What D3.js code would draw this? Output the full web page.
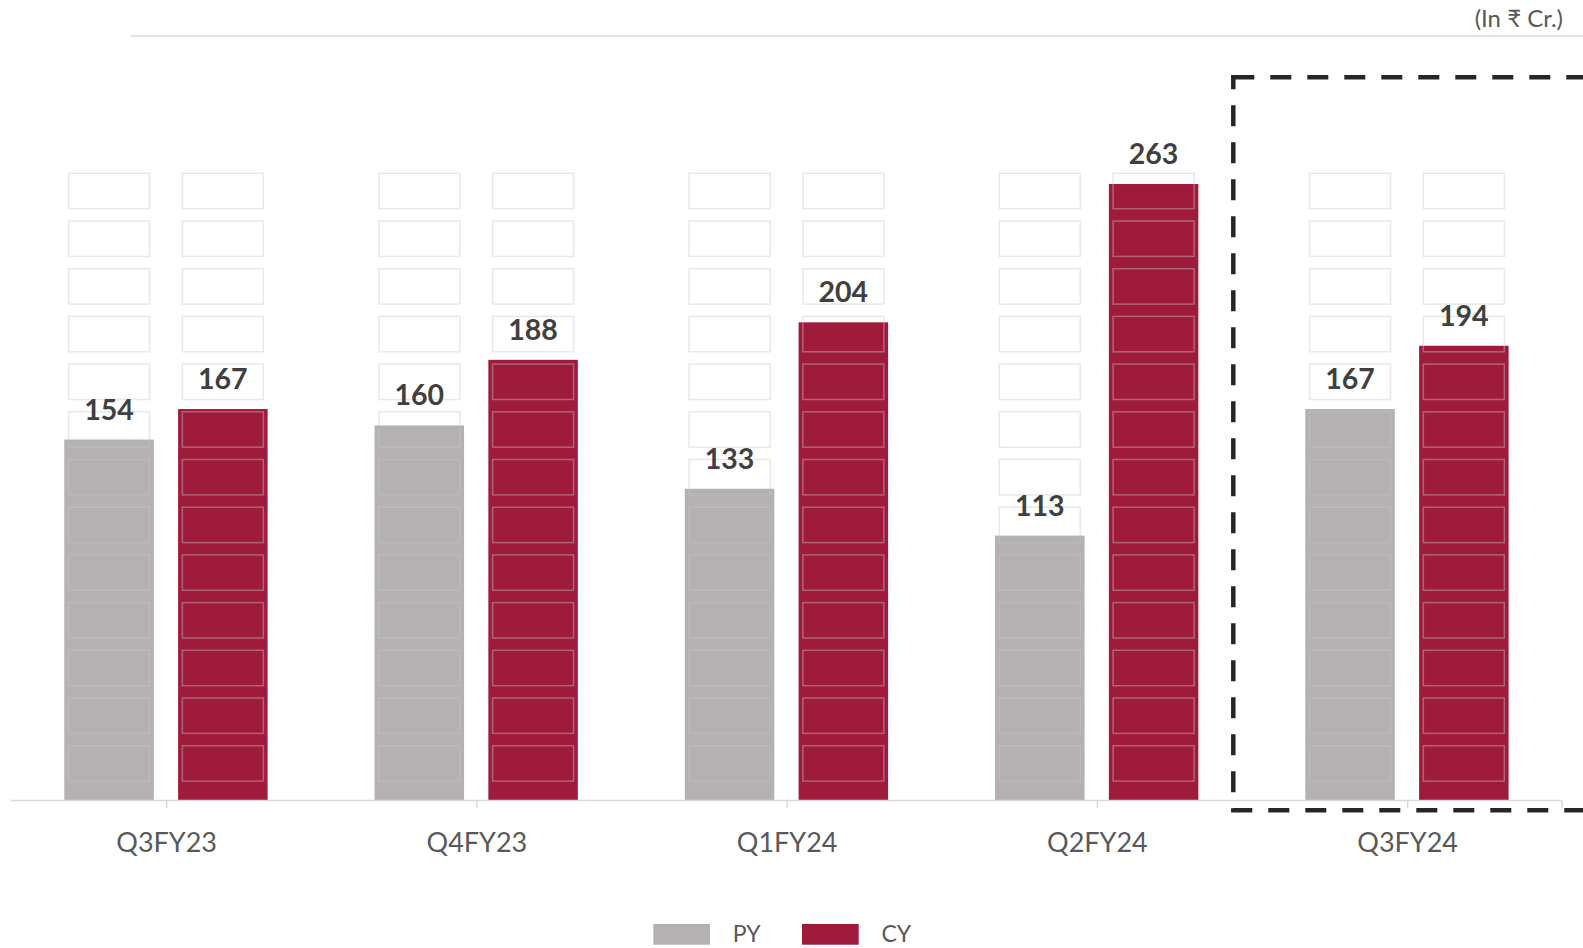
<!DOCTYPE html>
<html>
<head>
<meta charset="utf-8">
<script src="https://cdn.jsdelivr.net/npm/d3@7"></script>
<style>
  html, body { margin: 0; padding: 0; background: #ffffff; }
  svg { display: block; }
  text { font-family: "Lato", "Noto Sans", "DejaVu Sans", sans-serif; }
</style>
</head>
<body>
<svg id="chart" width="1583" height="948"></svg>
<script>
const categories = ["Q3FY23", "Q4FY23", "Q1FY24", "Q2FY24", "Q3FY24"];
const seriesNames = ["PY", "CY"];
const pyValues = [154, 160, 133, 113, 167];
const cyValues = [167, 188, 204, 263, 194];
const unitLabel = "(In \u20B9 Cr.)";

const colors = { PY: "#b5b0b2", CY: "#9f1b3b" };

const svg = d3.select("#chart");
const W = 1583, H = 948;

const baseline = 800.5;
const x = d3.scaleBand().domain(categories).range([11.5, 1562.75]).padding(0);
const xSub = d3.scaleBand().domain(seriesNames).range([52.8, 256.1]).paddingInner(0.2135).paddingOuter(0);
const y = d3.scaleLinear().domain([0, 300]).range([baseline, baseline - 703.2]);

const data = categories.map((c, i) => ({ cat: c, PY: pyValues[i], CY: cyValues[i] }));

// top rule
svg.append("line").attr("x1", 131).attr("x2", W).attr("y1", 36).attr("y2", 36)
  .attr("stroke", "#d9d9d9").attr("stroke-width", 1.5);

svg.append("text").attr("x", 1563).attr("y", 27).attr("text-anchor", "end")
  .attr("font-size", 24).attr("fill", "#595959").text(unitLabel);

// bars
const groups = svg.selectAll("g.cat").data(data).join("g").attr("class", "cat")
  .attr("transform", d => `translate(${x(d.cat)},0)`);

groups.selectAll("rect.bar").data(d => seriesNames.map(s => ({ s, v: d[s] }))).join("rect")
  .attr("class", "bar")
  .attr("x", d => xSub(d.s)).attr("width", xSub.bandwidth())
  .attr("y", d => y(d.v)).attr("height", d => baseline - y(d.v))
  .attr("fill", d => colors[d.s]);

// decorative cell pattern
const rows = d3.range(13);
const cellW = 81, cellH = 35.4, rowTop = 173.3, rowStep = 47.7;
groups.each(function () {
  const g = d3.select(this);
  seriesNames.forEach(s => {
    g.selectAll(null).data(rows).join("rect")
      .attr("x", xSub(s) + (xSub.bandwidth() - cellW) / 2)
      .attr("y", r => rowTop + r * rowStep)
      .attr("width", cellW).attr("height", cellH)
      .attr("fill", "none")
      .attr("stroke", "rgba(200,200,200,0.42)")
      .attr("stroke-width", 1.5);
  });
});

// value labels
groups.selectAll("text.val").data(d => seriesNames.map(s => ({ s, v: d[s] }))).join("text")
  .attr("class", "val")
  .attr("x", d => xSub(d.s) + xSub.bandwidth() / 2)
  .attr("y", d => y(d.v) - 20)
  .attr("text-anchor", "middle")
  .attr("font-size", 28.5).attr("font-weight", "bold").attr("fill", "#404040")
  .text(d => d.v);

// axis
svg.append("line").attr("x1", 11).attr("x2", 1562).attr("y1", baseline).attr("y2", baseline)
  .attr("stroke", "#d9d9d9").attr("stroke-width", 1.5);
const tickXs = categories.map(c => x(c) + x.bandwidth() / 2).concat([1562]);
svg.selectAll("line.tick").data(tickXs).join("line").attr("class", "tick")
  .attr("x1", d => d).attr("x2", d => d).attr("y1", baseline).attr("y2", baseline + 7.5)
  .attr("stroke", "#d9d9d9").attr("stroke-width", 1.5);

svg.selectAll("text.cat").data(categories).join("text").attr("class", "cat")
  .attr("x", c => x(c) + x.bandwidth() / 2).attr("y", 852)
  .attr("text-anchor", "middle").attr("font-size", 27).attr("fill", "#595959")
  .text(c => c);

// highlight dashed box
svg.append("rect").attr("x", 1233.3).attr("y", 77.3).attr("width", 420).attr("height", 733)
  .attr("fill", "none").attr("stroke", "#262626").attr("stroke-width", 4.5)
  .attr("stroke-dasharray", "21,16");

// legend
const legend = [
  { s: "PY", x: 653.3 },
  { s: "CY", x: 802 }
];
const lg = svg.selectAll("g.leg").data(legend).join("g").attr("class", "leg");
lg.append("rect").attr("x", d => d.x).attr("y", 924).attr("width", 56.7).attr("height", 20.7)
  .attr("fill", d => colors[d.s]);
lg.append("text").attr("x", d => d.x + 79.5).attr("y", 942).attr("font-size", 23)
  .attr("fill", "#595959").text(d => d.s);
</script>
</body>
</html>
